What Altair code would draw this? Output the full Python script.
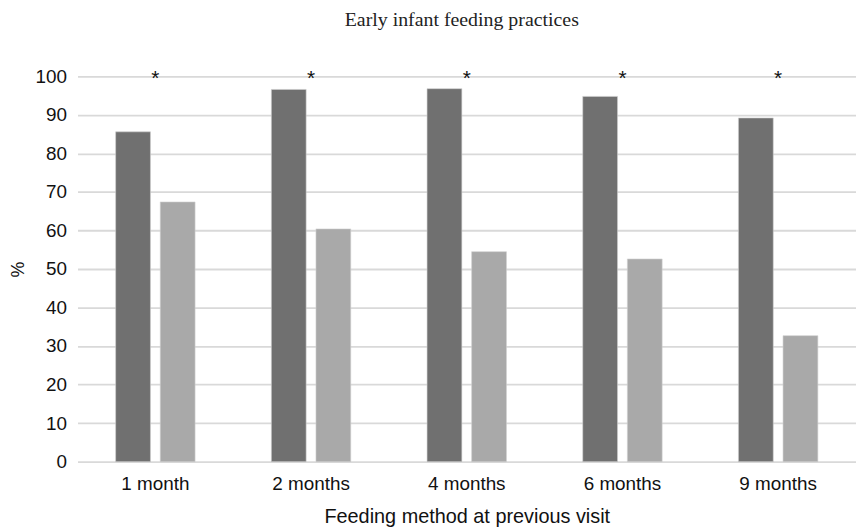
import altair as alt
import pandas as pd

categories = ["1 month", "2 months", "4 months", "6 months", "9 months"]
series = ["Group A", "Group B"]
values_a = [85.6, 96.6, 96.8, 94.8, 89.2]
values_b = [67.4, 60.4, 54.5, 52.6, 32.7]
star_labels = ["*", "*", "*", "*", "*"]
star_level = [100, 100, 100, 100, 100]

rows = []
for c, a, b in zip(categories, values_a, values_b):
    rows.append({"cat": c, "series": series[0], "val": a})
    rows.append({"cat": c, "series": series[1], "val": b})
df = pd.DataFrame(rows)
stars = pd.DataFrame({"cat": categories, "txt": star_labels, "val": star_level})

font = "Liberation Sans"

xscale = alt.Scale(paddingInner=0.49, paddingOuter=0.245)
yscale = alt.Scale(domain=[0, 100], nice=False)

x_axis = alt.Axis(title="Feeding method at previous visit", labelAngle=0,
                  labelFont=font, labelFontSize=19, labelColor="#111",
                  labelPadding=13, titleFont=font, titleFontSize=20,
                  titleFontWeight="normal", titleColor="#111", titlePadding=13,
                  domain=False, ticks=False, grid=False)
y_axis = alt.Axis(title="%", values=list(range(0, 101, 10)),
                  labelFont=font, labelFontSize=19, labelColor="#111",
                  labelPadding=11, titleFont=font, titleFontSize=18,
                  titleFontWeight="normal", titleColor="#111",
                  titlePadding=8, domain=False, ticks=False,
                  gridColor="#d9d9d9", gridWidth=1.8)

bars = alt.Chart(df).mark_bar(stroke="#cfcfcf", strokeWidth=0.6).encode(
    x=alt.X("cat:N", sort=categories, scale=xscale, axis=x_axis),
    xOffset=alt.XOffset("series:N", sort=series,
                        scale=alt.Scale(paddingInner=0.22, paddingOuter=0)),
    y=alt.Y("val:Q", scale=yscale, axis=y_axis),
    color=alt.Color("series:N", sort=series,
                    scale=alt.Scale(domain=series, range=["#707070", "#a9a9a9"]),
                    legend=None),
)

star_text = alt.Chart(stars).mark_text(fontSize=21, font=font, color="#111",
                                       baseline="middle", dy=3).encode(
    x=alt.X("cat:N", sort=categories, scale=xscale, axis=x_axis),
    y=alt.Y("val:Q", scale=yscale, axis=y_axis),
    text="txt:N",
)

chart = alt.layer(bars, star_text).properties(
    width=784, height=388,
    autosize=alt.AutoSizeParams(type="none"),
    padding={"left": 70, "top": 67, "right": 0, "bottom": 64},
    title=alt.Title("Early infant feeding practices", font="Liberation Serif",
                    fontSize=20, fontWeight="normal", color="#222", offset=38,
                    dx=-5, anchor="middle"),
).configure_view(stroke=None)

chart.save("out.html", embed_options={"renderer": "svg", "actions": False})
